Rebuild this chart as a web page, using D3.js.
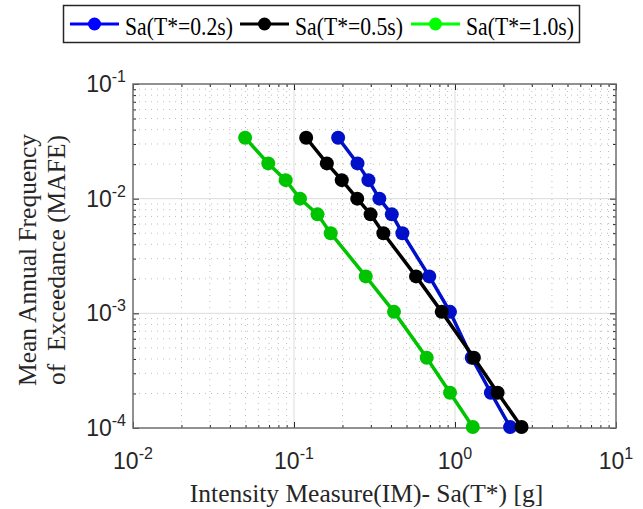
<!DOCTYPE html>
<html>
<head>
<meta charset="utf-8">
<script src="https://cdn.jsdelivr.net/npm/d3@7"></script>
<style>
  body { margin: 0; background: #fff; }
</style>
</head>
<body>
<div id="chart"></div>
<script>
const w = 643,
      h = 509;

const margin = {top: 84, right: 27, bottom: 81, left: 133};

// data
const seriesNames = ["Sa(T*=0.2s)", "Sa(T*=0.5s)", "Sa(T*=1.0s)"];
const mafe = [0.034, 0.0203, 0.0145, 0.0100, 0.0073, 0.0050, 0.0021, 0.00103, 0.00041, 0.000203, 0.000102];
const saT02 = [0.188, 0.248, 0.290, 0.339, 0.405, 0.471, 0.692, 0.931, 1.27, 1.67, 2.20];
const saT05 = [0.119, 0.160, 0.198, 0.247, 0.299, 0.359, 0.573, 0.827, 1.31, 1.84, 2.59];
const saT10 = [0.0497, 0.0692, 0.0888, 0.109, 0.140, 0.169, 0.279, 0.418, 0.667, 0.931, 1.29];
const lineColors = ["#0010c8", "#000000", "#00c400"];
const legendColors = ["#0000ff", "#000000", "#00ff00"];
const xDecades = [-2, -1, 0, 1];
const yDecades = [-4, -3, -2, -1];

const svg = d3.select("#chart")
  .append("svg")
  .attr("width", w)
  .attr("height", h)
  .style("font-family", "'Liberation Sans', Arial, sans-serif");

const x = d3.scaleLog()
  .domain([0.01, 10])
  .range([margin.left, w - margin.right]);

const y = d3.scaleLog()
  .domain([1e-4, 0.1])
  .range([h - margin.bottom, margin.top]);

// minor values
function minors(decades) {
  let out = [];
  for (let i = 0; i < decades.length - 1; i++) {
    for (let m = 2; m <= 9; m++) out.push(m * Math.pow(10, decades[i]));
  }
  return out;
}
const xMinor = minors(xDecades);
const yMinor = minors(yDecades);
const xMajor = xDecades.map(d => Math.pow(10, d));
const yMajor = yDecades.map(d => Math.pow(10, d));

const x0 = margin.left, x1 = w - margin.right;
const y0 = h - margin.bottom, y1 = margin.top;

// grid
const grid = svg.append("g");
grid.selectAll(".xminor").data(xMinor).enter().append("line")
  .attr("x1", d => x(d)).attr("x2", d => x(d))
  .attr("y1", y0).attr("y2", y1)
  .attr("stroke", "#bdbdbd").attr("stroke-width", 1)
  .attr("stroke-dasharray", "1,5");
grid.selectAll(".yminor").data(yMinor).enter().append("line")
  .attr("x1", x0).attr("x2", x1)
  .attr("y1", d => y(d)).attr("y2", d => y(d))
  .attr("stroke", "#bdbdbd").attr("stroke-width", 1)
  .attr("stroke-dasharray", "1,5");
grid.selectAll(".xmajor").data(xMajor.slice(1, -1)).enter().append("line")
  .attr("x1", d => x(d)).attr("x2", d => x(d))
  .attr("y1", y0).attr("y2", y1)
  .attr("stroke", "#dcdcdc").attr("stroke-width", 1);
grid.selectAll(".ymajor").data(yMajor.slice(1, -1)).enter().append("line")
  .attr("x1", x0).attr("x2", x1)
  .attr("y1", d => y(d)).attr("y2", d => y(d))
  .attr("stroke", "#dcdcdc").attr("stroke-width", 1);

// ticks on all four sides, pointing inwards
function tickAxis(axisFn, scale, vals, size, transform) {
  const g = svg.append("g")
    .attr("transform", transform)
    .call(axisFn(scale).tickValues(vals).tickSize(size).tickFormat(""));
  g.select(".domain").remove();
  g.selectAll(".tick line").attr("stroke", "#262626").attr("stroke-width", 1);
}
tickAxis(d3.axisBottom, x, xMinor, -3, "translate(0," + y0 + ")");
tickAxis(d3.axisBottom, x, xMajor, -6, "translate(0," + y0 + ")");
tickAxis(d3.axisTop, x, xMinor, -3, "translate(0," + y1 + ")");
tickAxis(d3.axisTop, x, xMajor, -6, "translate(0," + y1 + ")");
tickAxis(d3.axisLeft, y, yMinor, -3, "translate(" + x0 + ",0)");
tickAxis(d3.axisLeft, y, yMajor, -6, "translate(" + x0 + ",0)");
tickAxis(d3.axisRight, y, yMinor, -3, "translate(" + x1 + ",0)");
tickAxis(d3.axisRight, y, yMajor, -6, "translate(" + x1 + ",0)");

// box
svg.append("rect")
  .attr("x", x0).attr("y", y1)
  .attr("width", x1 - x0).attr("height", y0 - y1)
  .attr("fill", "none").attr("stroke", "#6e6e6e").attr("stroke-width", 1.5);

// tick labels
svg.selectAll(".xlab").data(xDecades).enter().append("text")
  .attr("x", d => x(Math.pow(10, d)))
  .attr("y", y0 + 41)
  .attr("text-anchor", "middle")
  .attr("font-size", 23)
  .attr("fill", "#262626")
  .each(function(d) {
    const t = d3.select(this);
    t.append("tspan").text("10");
    t.append("tspan").attr("dy", -10).attr("font-size", 16).text(d);
  });

svg.selectAll(".ylab").data(yDecades).enter().append("text")
  .attr("x", x0 - 7)
  .attr("y", d => y(Math.pow(10, d)) + 8)
  .attr("text-anchor", "end")
  .attr("font-size", 23)
  .attr("fill", "#262626")
  .each(function(d) {
    const t = d3.select(this);
    t.append("tspan").text("10");
    t.append("tspan").attr("dy", -10).attr("font-size", 16).text(d);
  });

// axis titles
svg.append("text")
  .attr("x", (x0 + x1) / 2 - 8)
  .attr("y", 502)
  .attr("text-anchor", "middle")
  .attr("font-family", "'Liberation Serif', 'Times New Roman', serif")
  .attr("font-size", 25.5)
  .attr("fill", "#262626")
  .text("Intensity Measure(IM)- Sa(T*) [g]");

const yTitle = svg.append("text")
  .attr("transform", "translate(36," + ((y0 + y1) / 2 + 4) + ") rotate(-90)")
  .attr("text-anchor", "middle")
  .attr("font-family", "'Liberation Serif', 'Times New Roman', serif")
  .attr("font-size", 25.5)
  .attr("fill", "#262626");
yTitle.append("tspan").attr("x", 0).attr("dy", 0).text("Mean Annual Frequency");
yTitle.append("tspan").attr("x", 0).attr("dy", 29).attr("xml:space", "preserve").text("of  Exceedance (MAFE)");

// series
const allSeries = [saT02, saT05, saT10];
const line = d3.line()
  .x(d => x(d[0]))
  .y(d => y(d[1]));

allSeries.forEach((vals, k) => {
  const pts = vals.map((v, i) => [v, mafe[i]]);
  const g = svg.append("g");
  g.append("path")
    .datum(pts)
    .attr("d", line)
    .attr("fill", "none")
    .attr("stroke", lineColors[k])
    .attr("stroke-width", 3.5);
  g.selectAll("circle").data(pts).enter().append("circle")
    .attr("cx", d => x(d[0]))
    .attr("cy", d => y(d[1]))
    .attr("r", 7)
    .attr("fill", lineColors[k]);
});

// legend
const legend = svg.append("g");
legend.append("rect")
  .attr("x", 63.5).attr("y", 5.5)
  .attr("width", 516).attr("height", 37)
  .attr("fill", "#fff").attr("stroke", "#262626").attr("stroke-width", 1.5);

const legendX = [70, 240, 411];
seriesNames.forEach((name, k) => {
  const lx = legendX[k];
  legend.append("line")
    .attr("x1", lx).attr("x2", lx + 49)
    .attr("y1", 24).attr("y2", 24)
    .attr("stroke", legendColors[k]).attr("stroke-width", 3);
  legend.append("circle")
    .attr("cx", lx + 24.5).attr("cy", 24).attr("r", 6.5)
    .attr("fill", legendColors[k]);
  legend.append("text")
    .attr("x", lx + 55)
    .attr("y", 34.5)
    .attr("font-family", "'Liberation Serif', 'Times New Roman', serif")
    .attr("font-size", 25)
    .attr("textLength", 108)
    .attr("lengthAdjust", "spacingAndGlyphs")
    .attr("fill", "#000")
    .text(name);
});
</script>
</body>
</html>
